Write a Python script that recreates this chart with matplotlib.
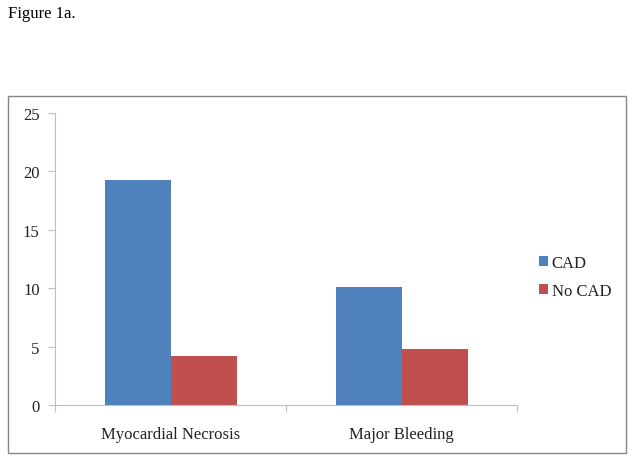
import matplotlib.pyplot as plt
import matplotlib.patches as mpatches
import numpy as np

plt.rcParams['font.family'] = 'Liberation Serif'

# ── Data ─────────────────────────────────────────────────────────────────────
categories = ["Myocardial Necrosis", "Major Bleeding"]
cad = [19.3, 10.1]
no_cad = [4.2, 4.8]
series_names = ["CAD", "No CAD"]
colors = ["#4F81BD", "#C0504D"]

W, H = 635, 464
fig = plt.figure(figsize=(W / 100, H / 100), dpi=100)

# outer chart border
fig.patches.append(mpatches.Rectangle((8 / W, 1 - 454 / H), 618 / W, 357 / H,
                                      transform=fig.transFigure, fill=False,
                                      edgecolor="#868686", linewidth=1.0))
fig.text(8 / W, 1 - 14 / H, "Figure 1a.", fontsize=12, va="center", ha="left")

ax = fig.add_axes([55 / W, 1 - 406 / H, 462 / W, 292 / H])

x = np.arange(len(categories))
bw = 1 / 3.5
ax.bar(x - bw / 2, cad, bw, color=colors[0], label=series_names[0])
ax.bar(x + bw / 2, no_cad, bw, color=colors[1], label=series_names[1])

ax.set_xlim(-0.5, len(categories) - 0.5)
ax.set_ylim(0, 25)
ax.set_yticks(range(0, 26, 5))

ax.set_xticks(np.arange(-0.5, len(categories), 1.0))
ax.set_xticklabels([])
ax.set_xticks(x, minor=True)
ax.set_xticklabels(categories, minor=True)
ax.tick_params(axis="x", which="minor", length=0, pad=15, labelsize=12,
               labelcolor="#222222")
ax.tick_params(axis="x", which="major", length=5, color="#BFBFBF")
ax.tick_params(axis="y", length=5, color="#BFBFBF", labelsize=12, pad=6,
               labelcolor="#222222")

for s in ["top", "right"]:
    ax.spines[s].set_visible(False)
for s in ["left", "bottom"]:
    ax.spines[s].set_color("#BFBFBF")

leg = ax.legend(loc="center left", bbox_to_anchor=(539 / W, 1 - 278 / H),
                bbox_transform=fig.transFigure, frameon=False, fontsize=12,
                handlelength=0.55, handleheight=0.55, handletextpad=0.2,
                labelspacing=0.7, borderaxespad=0, borderpad=0)
for t in leg.get_texts():
    t.set_color("#222222")

fig.savefig("out.png", dpi=100)
